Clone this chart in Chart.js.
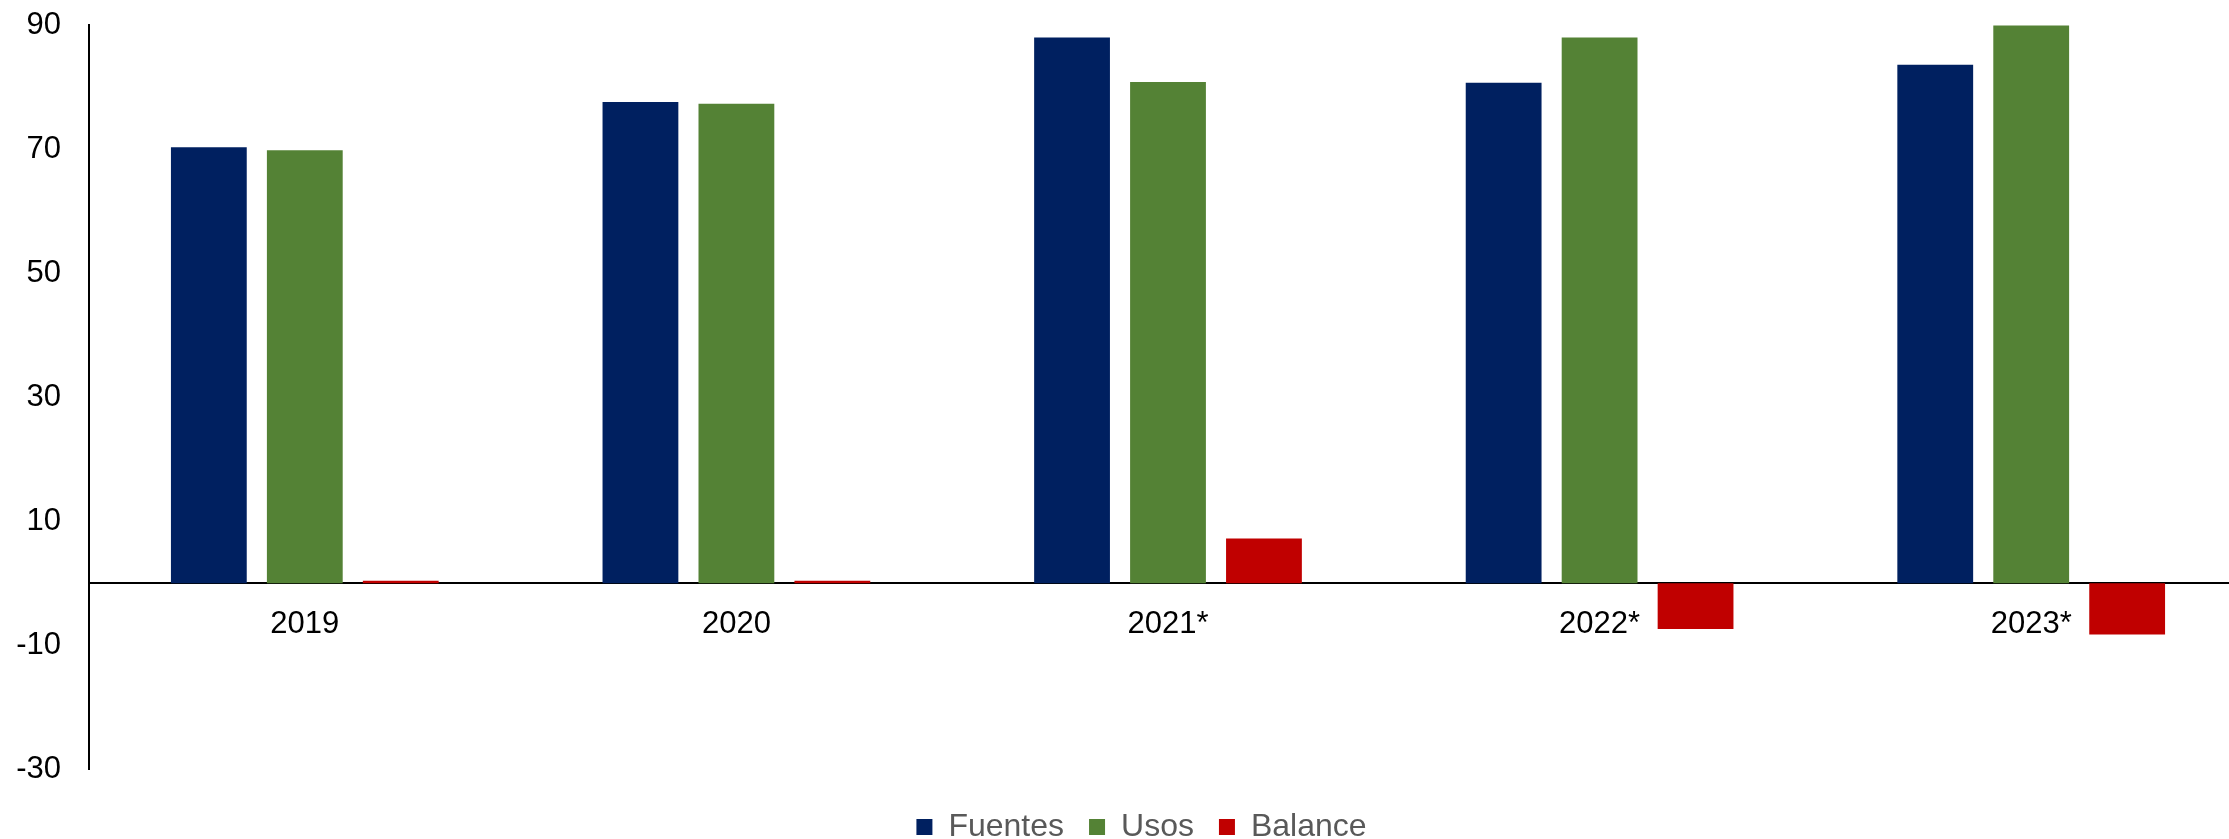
<!DOCTYPE html>
<html>
<head>
<meta charset="utf-8">
<script src="https://cdn.jsdelivr.net/npm/chart.js@4"></script>
<style>
  html, body { margin: 0; padding: 0; background: #fff; overflow: hidden; }
  #wrap { width: 2247px; height: 839px; }
</style>
</head>
<body>
<div id="wrap"><canvas id="chart"></canvas></div>
<script>
const years = ["2019", "2020", "2021*", "2022*", "2023*"];

const fuentes = [70.3, 77.6, 88.0, 80.7, 83.6];
const usos = [69.8, 77.3, 80.8, 88.0, 89.9];
const balance = [0.4, 0.4, 7.2, -7.4, -8.3];

const yTicks = [-30, -10, 10, 30, 50, 70, 90];

const fuentesColour = "#002060";
const usosColour = "#548235";
const balanceColour = "#C00000";

const fontFamily = "'Liberation Sans', Arial, sans-serif";

const makeDataset = (label, values, colour) => ({
  label: label,
  data: values,
  backgroundColor: colour,
  borderWidth: 0,
  categoryPercentage: 0.667,
  barPercentage: 0.79,
});

// nudge the legend row a bit to the right of the canvas centre
const legendShift = {
  id: "legendShift",
  afterLayout(chart) {
    chart.legend.left += 18;
    chart.legend.right += 18;
  },
};

const canvas = document.getElementById("chart");

new Chart(canvas, {
  type: "bar",
  data: {
    labels: years,
    datasets: [
      makeDataset("Fuentes", fuentes, fuentesColour),
      makeDataset("Usos", usos, usosColour),
      makeDataset("Balance", balance, balanceColour),
    ],
  },
  plugins: [legendShift],
  options: {
    responsive: true,
    maintainAspectRatio: false,
    animation: false,
    layout: {
      padding: { top: 25, left: 0, right: 0, bottom: -14 },
    },
    plugins: {
      tooltip: { enabled: false },
      legend: {
        position: "bottom",
        // empty title only pushes the legend row down a little
        title: { display: true, text: "", padding: 0, font: { size: 14 } },
        labels: {
          boxWidth: 16,
          boxHeight: 16,
          padding: 25,
          color: "#595959",
          font: { family: fontFamily, size: 32 },
        },
      },
    },
    scales: {
      x: {
        position: { y: 0 },
        afterFit: (scale) => {
          scale.paddingLeft = 0;
          scale.paddingRight = 0;
        },
        grid: { display: false, drawTicks: false },
        border: { display: true, color: "#000", width: 2 },
        ticks: {
          color: "#000",
          padding: 23,
          font: { family: fontFamily, size: 31 },
        },
      },
      y: {
        min: -30,
        max: 90,
        afterBuildTicks: (scale) => {
          scale.ticks = yTicks.map((v) => ({ value: v }));
        },
        afterFit: (scale) => {
          scale.width = 89;
          scale.paddingTop = 20;
          scale.paddingBottom = 20;
        },
        grid: { display: false, drawTicks: false },
        border: { display: true, color: "#000", width: 2 },
        ticks: {
          color: "#000",
          padding: 28,
          font: { family: fontFamily, size: 31 },
        },
      },
    },
  },
});
</script>
</body>
</html>
